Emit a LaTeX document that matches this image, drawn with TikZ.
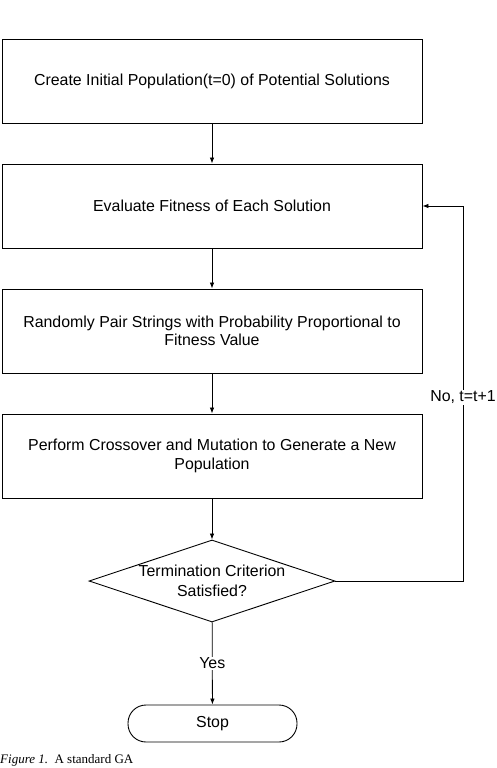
\documentclass[tikz,border=0pt]{standalone}
\usepackage{fontspec}
\setmainfont{Liberation Sans}
\newfontfamily\capfont{Liberation Serif}
\usetikzlibrary{shapes.geometric,arrows.meta}
\begin{document}
\begin{tikzpicture}[x=1pt,y=1pt,
  procbox/.style={draw,line width=0.9pt,minimum width=420pt,minimum height=84pt,inner sep=0pt,align=center,font=\fontsize{15.9}{18.5}\selectfont},
  decbox/.style={draw,line width=0.9pt,diamond,aspect=3,minimum width=246pt,minimum height=82pt,inner sep=0pt,align=center,font=\fontsize{15.9}{19.5}\selectfont},
  termbox/.style={draw,line width=0.9pt,rounded corners=18pt,minimum width=169pt,minimum height=37pt,inner sep=0pt,font=\fontsize{15.9}{18}\selectfont},
  flow/.style={line width=0.8pt,-{Latex[length=6pt,width=4.5pt]}},
  lbl/.style={font=\fontsize{15.9}{18}\selectfont,fill=white,inner sep=1pt}]
\useasboundingbox (0,0) rectangle (496,-768);
\node[procbox] (b1) at (212,-81) {Create Initial Population(t=0) of Potential Solutions};
\node[procbox] (b2) at (212,-206) {Evaluate Fitness of Each Solution};
\node[procbox] (b3) at (212,-331) {Randomly Pair Strings with Probability Proportional to\\Fitness Value};
\node[procbox] (b4) at (212,-456) {Perform Crossover and Mutation to Generate a New\\Population};
\node[decbox] (d) at (212,-581) {Termination Criterion\\Satisfied?};
\node[termbox] (stop) at (212.5,-723.5) {Stop};
\coordinate (r1) at (463,-581);
\coordinate (r2) at (463,-206);
\draw[flow] (b1) -- (b2);
\draw[flow] (b2) -- (b3);
\draw[flow] (b3) -- (b4);
\draw[flow] (b4) -- (d);
\draw[flow] (d) -- node[lbl] (yes) {Yes} (stop);
\draw[flow] (d.east) -- (r1) -- node[lbl,pos=0.49] (no) {No, t=t+1} (r2) -- (b2.east);
\node[anchor=north west,inner sep=0pt,font=\capfont\fontsize{13}{15}\selectfont] (cap) at (0,-754.5) {\textit{Figure 1.}\ \ A standard GA};
\end{tikzpicture}
\end{document}
